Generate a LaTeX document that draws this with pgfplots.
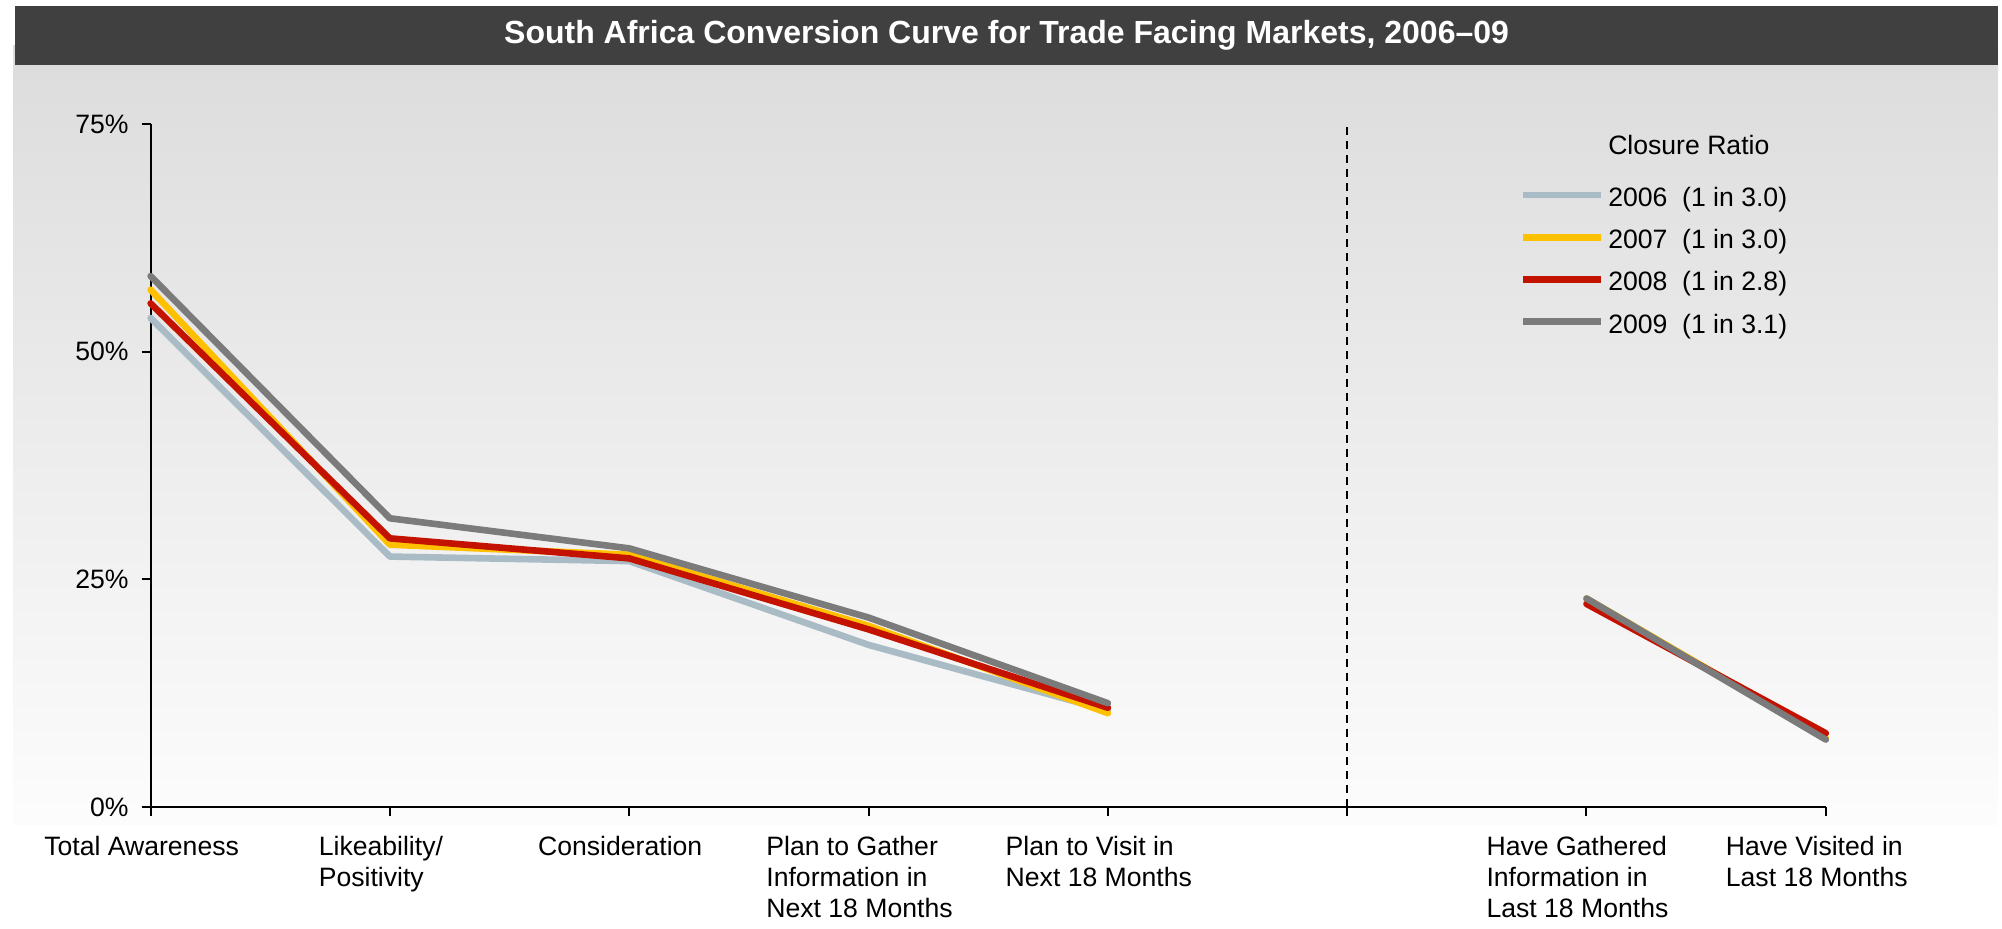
\documentclass[border=0pt]{standalone}
\usepackage{fontspec}
\setmainfont{Liberation Sans}
\usepackage{pgfplots}
\pgfplotsset{compat=1.18}

\definecolor{c06}{HTML}{A9BCC6}
\definecolor{c07}{HTML}{FFC000}
\definecolor{c08}{HTML}{C41200}
\definecolor{c09}{HTML}{7B7B7B}
\definecolor{titlebg}{HTML}{404040}
\definecolor{bgtop}{HTML}{DCDCDC}

\newcommand{\lblfont}{\fontsize{13.3}{15.6}\selectfont}

\begin{document}
\begin{tikzpicture}
  % page frame, title bar and shaded panel
  \path[use as bounding box] (0pt,0pt) rectangle (1001pt,464.5pt);
  \shade[top color=bgtop, bottom color=white!99!black] (6.5pt,52pt) rectangle (999pt,441.5pt);
  \fill[titlebg] (7.5pt,432pt) rectangle (999pt,461.5pt);
  \node[text=white, font=\bfseries\fontsize{16}{18}\selectfont] at (503.3pt,446.7pt)
    {South Africa Conversion Curve for Trade Facing Markets, 2006–09};

  \begin{axis}[
      at={(75.3pt,61pt)}, anchor=south west,
      scale only axis,
      width=837.6pt, height=341.5pt,
      xmin=0, xmax=7, ymin=0, ymax=75,
      axis lines=left,
      axis line style={-, line width=1pt, black},
      clip=false,
      unbounded coords=jump,
      xtick={0,1,2,3,4,5,6,7},
      xticklabels={Total Awareness, {Likeability/\\Positivity}, Consideration,
        {Plan to Gather\\Information in\\Next 18 Months},
        {Plan to Visit in\\Next 18 Months}, {},
        {Have Gathered\\Information in\\Last 18 Months},
        {Have Visited in\\Last 18 Months}},
      xticklabel style={align=left, anchor=north, font=\lblfont,
        yshift=-6.5pt, xshift=-4.5pt},
      ytick={0,25,50,75},
      yticklabel={\pgfmathprintnumber[assume math mode=true]{\tick}\%},
      yticklabel style={font=\lblfont, xshift=-3pt},
      tick align=outside,
      major tick length=4.5pt,
      tick style={line width=1pt, black},
      legend cell align=left,
      legend image code/.code={
        \path[draw=none] (0pt,0pt) -- (39pt,0pt);
        \draw[#1, line cap=butt] (-1pt,2.3pt) -- (38pt,2.3pt);
      },
      legend style={at={(0.817,0.9696)}, anchor=north west,
        draw=none, fill=none, font=\lblfont,
        inner xsep=0pt, inner ysep=0pt, row sep=8.7pt,
        nodes={text height=9.6pt, text depth=2.8pt, inner ysep=0pt}},
      every axis plot/.append style={line width=3.3pt, line join=round, line cap=round},
    ]

    \addlegendimage{empty legend}
    \addlegendentry{\raisebox{5.1pt}{Closure Ratio}}

    \addplot[c06] coordinates {
      (0,53.7) (1,27.5) (2,27.0) (3,17.8) (4,10.6) (5,nan) (6,22.8) (7,7.5)};
    \addlegendentry{2006~~(1 in 3.0)}

    \addplot[c07] coordinates {
      (0,56.8) (1,28.8) (2,27.7) (3,19.9) (4,10.3) (5,nan) (6,22.9) (7,7.6)};
    \addlegendentry{2007~~(1 in 3.0)}

    \addplot[c08] coordinates {
      (0,55.3) (1,29.5) (2,27.3) (3,19.5) (4,10.9) (5,nan) (6,22.3) (7,8.1)};
    \addlegendentry{2008~~(1 in 2.8)}

    \addplot[c09] coordinates {
      (0,58.3) (1,31.7) (2,28.4) (3,20.8) (4,11.4) (5,nan) (6,22.9) (7,7.4)};
    \addlegendentry{2009~~(1 in 3.1)}

    % divider between intention and behaviour stages
    \addplot[black, line width=1pt, line cap=butt, dash pattern=on 4pt off 3pt, forget plot]
      coordinates {(5,0) (5,75)};
  \end{axis}
\end{tikzpicture}
\end{document}
